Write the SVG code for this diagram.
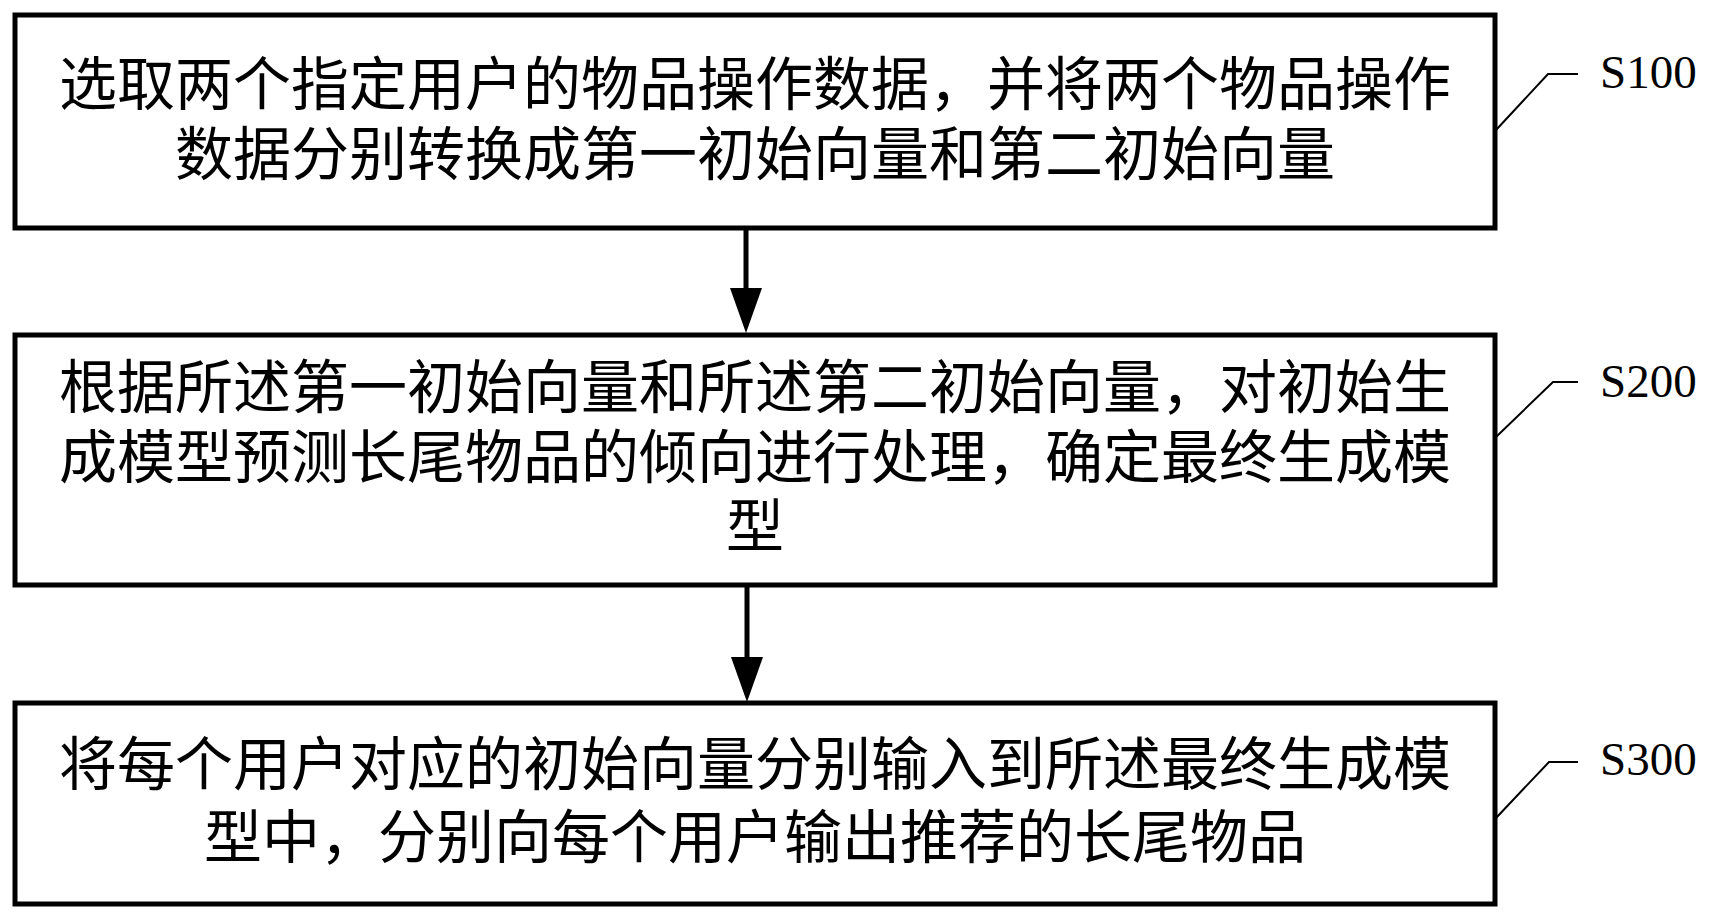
<svg xmlns="http://www.w3.org/2000/svg" width="1711" height="920" viewBox="0 0 1711 920">
<style>
.box{fill:#fff;stroke:#000;stroke-width:5}
.t{font-family:"Noto Sans CJK SC","Noto Sans CJK JP",sans-serif;font-size:58px;fill:#000;text-anchor:middle}
.lbl{font-family:"Liberation Serif","Times New Roman",serif;font-size:47px;fill:#000}
.lead{fill:none;stroke:#000;stroke-width:2}
.conn{stroke:#000;stroke-width:5;fill:none}
</style>
<defs>
<marker id="ah" viewBox="0 0 45 32" markerWidth="45" markerHeight="32" refX="30" refY="16" orient="auto" markerUnits="userSpaceOnUse">
<path d="M0,0 L45,16 L0,32 z" fill="#000"/>
</marker>
</defs>
<rect width="1711" height="920" fill="#fff"/>
<g id="connectors">
<line class="conn" x1="746" y1="228" x2="746" y2="318" marker-end="url(#ah)"/>
<line class="conn" x1="747" y1="585" x2="747" y2="687" marker-end="url(#ah)"/>
</g>
<g id="S100">
<rect class="box" x="15" y="15" width="1480" height="213"/>
<text class="t" x="755" y="105">选取两个指定用户的物品操作数据，并将两个物品操作<tspan x="755" dy="70">数据分别转换成第一初始向量和第二初始向量</tspan></text>
<polyline class="lead" points="1496,130 1548,74 1578,74"/>
<text class="lbl" x="1600" y="88">S100</text>
</g>
<g id="S200">
<rect class="box" x="15" y="335" width="1480" height="250"/>
<text class="t" x="755" y="408">根据所述第一初始向量和所述第二初始向量，对初始生<tspan x="755" dy="70">成模型预测长尾物品的倾向进行处理，确定最终生成模</tspan><tspan x="755" dy="69">型</tspan></text>
<polyline class="lead" points="1496,437 1553,382 1578,382"/>
<text class="lbl" x="1600" y="397">S200</text>
</g>
<g id="S300">
<rect class="box" x="15" y="703" width="1480" height="201"/>
<text class="t" x="755" y="785">将每个用户对应的初始向量分别输入到所述最终生成模<tspan x="755" dy="73">型中，分别向每个用户输出推荐的长尾物品</tspan></text>
<polyline class="lead" points="1496,818 1549,762 1578,762"/>
<text class="lbl" x="1600" y="775">S300</text>
</g>
</svg>
